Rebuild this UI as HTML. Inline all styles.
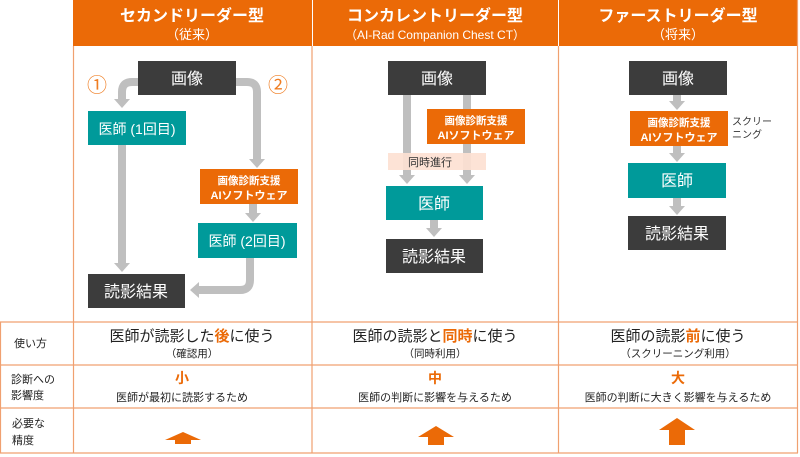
<!DOCTYPE html>
<html><head><meta charset="utf-8"><style>
body{margin:0;background:#fff;}
svg{display:block;font-family:"Liberation Sans","Noto Sans CJK JP",sans-serif;}
</style></head><body>
<svg width="800" height="457" viewBox="0 0 800 457" xmlns="http://www.w3.org/2000/svg">
<!-- headers -->
<rect x="73" y="0" width="239" height="46" fill="#eb6a07"/>
<rect x="313" y="0" width="245" height="46" fill="#eb6a07"/>
<rect x="559" y="0" width="239" height="46" fill="#eb6a07"/>
<g fill="#fff" text-anchor="middle">
<text x="192" y="21" font-size="16" font-weight="bold">セカンドリーダー型</text>
<text x="192" y="39" font-size="13">（従来）</text>
<text x="435" y="21" font-size="16" font-weight="bold">コンカレントリーダー型</text>
<text x="435" y="39" font-size="12">（AI-Rad Companion Chest CT）</text>
<text x="678" y="21" font-size="16" font-weight="bold">ファーストリーダー型</text>
<text x="678" y="39" font-size="13">（将来）</text>
</g>
<!-- grid -->
<g stroke="#f0a070" stroke-width="1.2" fill="none">
<line x1="73.5" y1="46" x2="73.5" y2="453"/>
<line x1="312" y1="46" x2="312" y2="453"/>
<line x1="558.5" y1="46" x2="558.5" y2="453"/>
<line x1="797.5" y1="0" x2="797.5" y2="453"/>
<line x1="0.5" y1="322" x2="0.5" y2="453"/>
<line x1="0" y1="322" x2="798" y2="322"/>
<line x1="0" y1="365" x2="798" y2="365"/>
<line x1="0" y1="408" x2="798" y2="408"/>
<line x1="0" y1="453" x2="798" y2="453"/>
</g>
<!-- arrows -->
<g stroke="#bfbfbf" stroke-width="8" fill="none">
<path d="M138,82 H132 Q122,82 122,92 V100"/>
<path d="M236,82 H247 Q257,82 257,92 V160"/>
<path d="M122,145 V264"/>
<path d="M253,204 V214"/>
<path d="M250,258 V280 Q250,290 240,290 H198"/>
<path d="M407,95 V176"/>
<path d="M467,95 V176"/>
<path d="M434,220 V229"/>
<path d="M677,95 V102"/>
<path d="M677,146 V154"/>
<path d="M677,198 V207"/>
</g>
<g fill="#bfbfbf">
<polygon points="114,99 130,99 122,108"/>
<polygon points="249,159 265,159 257,168"/>
<polygon points="114,263 130,263 122,272"/>
<polygon points="245,213 261,213 253,222"/>
<polygon points="199,282 199,298 190,290"/>
<polygon points="399,175 415,175 407,184"/>
<polygon points="459,175 475,175 467,184"/>
<polygon points="426,228 442,228 434,237"/>
<polygon points="669,101 685,101 677,110"/>
<polygon points="669,153 685,153 677,162"/>
<polygon points="669,206 685,206 677,215"/>
</g>
<rect x="138" y="61" width="98" height="34" fill="#3c3c3c"/>
<text x="187" y="84" fill="#fff" font-size="16" text-anchor="middle">画像</text>
<text x="97" y="92" fill="#ef7d22" font-size="20" text-anchor="middle">①</text>
<text x="278" y="92" fill="#ef7d22" font-size="20" text-anchor="middle">②</text>
<rect x="88" y="111" width="98" height="34" fill="#009a9a"/>
<text x="137" y="134" fill="#fff" font-size="14" text-anchor="middle">医師 (1回目)</text>
<rect x="200" y="169" width="98" height="35" fill="#eb6a07"/>
<text x="249" y="184" fill="#fff" font-size="10.5" font-weight="bold" text-anchor="middle">画像診断支援</text>
<text x="249" y="199" fill="#fff" font-size="11" font-weight="bold" text-anchor="middle">AIソフトウェア</text>
<rect x="198" y="223" width="99" height="35" fill="#009a9a"/>
<text x="247" y="246" fill="#fff" font-size="14" text-anchor="middle">医師 (2回目)</text>
<rect x="88" y="274" width="97" height="34" fill="#3c3c3c"/>
<text x="136" y="297" fill="#fff" font-size="16" text-anchor="middle">読影結果</text>
<!-- col2 -->
<rect x="388" y="61" width="98" height="34" fill="#3c3c3c"/>
<text x="437" y="84" fill="#fff" font-size="16" text-anchor="middle">画像</text>
<rect x="427" y="109" width="98" height="35" fill="#eb6a07"/>
<text x="476" y="124" fill="#fff" font-size="10.5" font-weight="bold" text-anchor="middle">画像診断支援</text>
<text x="476" y="139" fill="#fff" font-size="11" font-weight="bold" text-anchor="middle">AIソフトウェア</text>
<rect x="388" y="153" width="98" height="17" fill="#fde1d3" opacity="0.92"/>
<text x="408" y="166" fill="#333" font-size="11">同時進行</text>
<rect x="386" y="186" width="97" height="34" fill="#009a9a"/>
<text x="434" y="209" fill="#fff" font-size="16" text-anchor="middle">医師</text>
<rect x="386" y="239" width="97" height="34" fill="#3c3c3c"/>
<text x="434" y="262" fill="#fff" font-size="16" text-anchor="middle">読影結果</text>
<!-- col3 -->
<rect x="629" y="61" width="98" height="34" fill="#3c3c3c"/>
<text x="678" y="84" fill="#fff" font-size="16" text-anchor="middle">画像</text>
<rect x="630" y="111" width="98" height="35" fill="#eb6a07"/>
<text x="679" y="126" fill="#fff" font-size="10.5" font-weight="bold" text-anchor="middle">画像診断支援</text>
<text x="679" y="141" fill="#fff" font-size="11" font-weight="bold" text-anchor="middle">AIソフトウェア</text>
<text x="732" y="125" fill="#333" font-size="10">スクリー</text>
<text x="732" y="138" fill="#333" font-size="10">ニング</text>
<rect x="628" y="163" width="98" height="35" fill="#009a9a"/>
<text x="677" y="186" fill="#fff" font-size="16" text-anchor="middle">医師</text>
<rect x="628" y="216" width="98" height="34" fill="#3c3c3c"/>
<text x="677" y="239" fill="#fff" font-size="16" text-anchor="middle">読影結果</text>
<!-- table -->
<g fill="#222" font-size="11">
<text x="14" y="347">使い方</text>
<text x="11" y="383">診断への</text>
<text x="11" y="399">影響度</text>
<text x="12" y="427">必要な</text>
<text x="12" y="444">精度</text>
</g>
<g text-anchor="middle" fill="#222">
<text x="192" y="341" font-size="15">医師が読影した<tspan fill="#eb6a07" font-weight="bold">後</tspan>に使う</text>
<text x="192" y="357" font-size="10.5">（確認用）</text>
<text x="435" y="341" font-size="15">医師の読影と<tspan fill="#eb6a07" font-weight="bold">同時</tspan>に使う</text>
<text x="435" y="357" font-size="10.5">（同時利用）</text>
<text x="678" y="341" font-size="15">医師の読影<tspan fill="#eb6a07" font-weight="bold">前</tspan>に使う</text>
<text x="678" y="357" font-size="10.5">（スクリーニング利用）</text>
<text x="182" y="383" font-size="14" font-weight="bold" fill="#eb6a07">小</text>
<text x="182" y="401" font-size="11">医師が最初に読影するため</text>
<text x="435" y="383" font-size="14" font-weight="bold" fill="#eb6a07">中</text>
<text x="435" y="401" font-size="11">医師の判断に影響を与えるため</text>
<text x="678" y="383" font-size="14" font-weight="bold" fill="#eb6a07">大</text>
<text x="678" y="401" font-size="11">医師の判断に大きく影響を与えるため</text>
</g>
<g fill="#eb6a07">
<path d="M165,440 L183,432 L201,440 L191,440 L191,444 L175,444 L175,440 z"/>
<path d="M418,437 L436,426 L454,437 L444,437 L444,445 L428,445 L428,437 z"/>
<path d="M659,430 L677,418 L695,430 L685,430 L685,445 L669,445 L669,430 z"/>
</g>
</svg>
</body></html>
